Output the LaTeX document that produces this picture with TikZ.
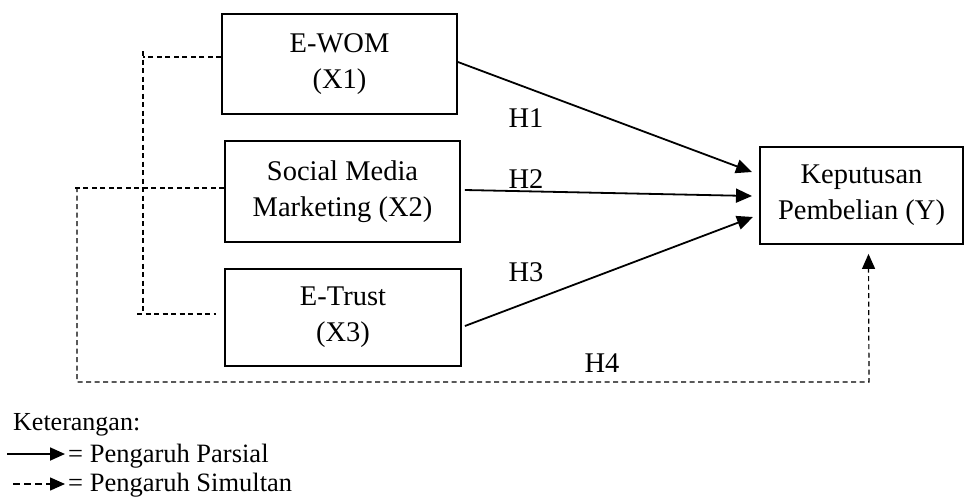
\documentclass[tikz,border=0pt]{standalone}
\usepackage{fontspec}
\setmainfont{Liberation Serif}
\usetikzlibrary{arrows.meta}
\begin{document}
\begin{tikzpicture}[x=1pt,y=-1pt,
  box/.style={draw, line width=1.8pt, align=center, inner sep=0pt,
    font=\fontsize{28.5}{36}\selectfont},
  lbl/.style={font=\fontsize{28.5}{36}\selectfont, inner sep=0pt},
  leg/.style={font=\fontsize{26}{32}\selectfont, inner sep=0pt, anchor=base west},
  leg2/.style={font=\fontsize{26.5}{32}\selectfont, inner sep=0pt, anchor=base west},
  solidarrow/.style={line width=1.8pt, -{Triangle[length=16pt,width=14pt]}},
  dsh/.style={line width=1.2pt, dash pattern=on 5pt off 3.5pt},
  dsharrow/.style={dsh, -{Triangle[length=15pt,width=13pt]}}]
\useasboundingbox (0,0) rectangle (966,496);
\clip (0,0) rectangle (966,496);

% boxes
\node[box, minimum width=235pt, minimum height=100pt] (X1) at (339.5,64) {E-WOM\\(X1)};
\node[box, minimum width=235pt, minimum height=101pt] (X2) at (342.5,191.5) {Social Media\\Marketing (X2)};
\node[box, minimum width=236pt, minimum height=97pt] (X3) at (343,317.5) {E-Trust\\(X3)};
\node[box, minimum width=203pt, minimum height=97pt] (Y) at (861.5,195.5) {Keputusan\\Pembelian (Y)};

% arrow tips near Y
\coordinate (t1) at (752,172);
\coordinate (t2) at (752,196);
\coordinate (t3) at (753,217);

\draw[solidarrow] ([yshift=2pt]X1.east) -- (t1);
\draw[solidarrow] ([yshift=1.5pt,xshift=4pt]X2.east) -- (t2);
\draw[solidarrow] ([yshift=-8.5pt,xshift=3pt]X3.east) -- (t3);

% labels
\node[lbl] (h1) at (526,118) {H1};
\node[lbl] (h2) at (526,179) {H2};
\node[lbl] (h3) at (526,272) {H3};
\node[lbl] (h4) at (602,363) {H4};

% inner dashed bracket
\coordinate (b1) at (143,51);
\coordinate (b2) at (143,314);
\coordinate (b3) at (137,314);
\coordinate (b4) at (216,314);
\coordinate (b5) at (143,57);
\draw[dsh] ([yshift=7pt]X1.west) -- (b5);
\draw[dsh] (b1) -- (b2);
\draw[dsh] (b3) -- (b4);

% outer dashed (H4)
\coordinate (c1) at (72,188);
\coordinate (c2) at (77,187);
\coordinate (c3) at (77,382);
\coordinate (c4) at (869,382);
\draw[dsh] ([yshift=3.5pt]X2.west) -- (c1);
\draw[dsharrow] (c2) -- (c3) -- (c4) -- ([xshift=7pt,yshift=-9pt]Y.south);

% legend
\node[leg] (k) at (13,430) {Keterangan:};
\coordinate (l1a) at (7,454);
\coordinate (l1b) at (65,454);
\coordinate (l2a) at (13,484);
\coordinate (l2b) at (65,484);
\draw[line width=1.8pt, -{Triangle[length=15pt,width=13pt]}] (l1a) -- (l1b);
\draw[line width=1.5pt, dash pattern=on 7pt off 4pt, -{Triangle[length=15pt,width=13pt]}] (l2a) -- (l2b);
\node[leg2] (p1) at (68,462) {= Pengaruh Parsial};
\node[leg2] (p2) at (68,491) {= Pengaruh Simultan};
\end{tikzpicture}
\end{document}
